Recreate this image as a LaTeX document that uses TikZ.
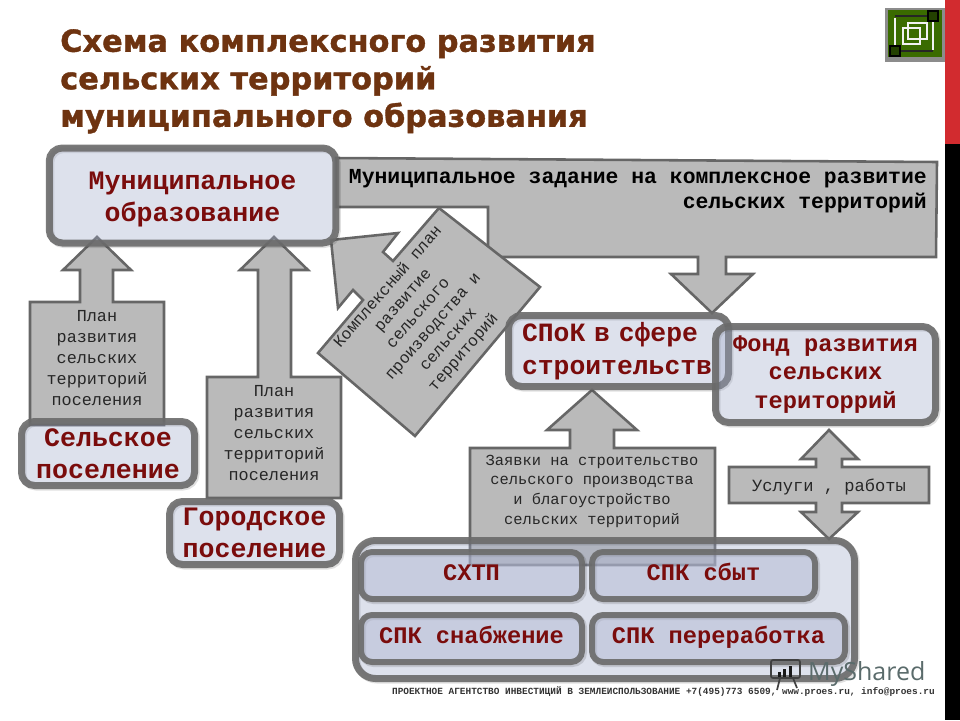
\documentclass[tikz,border=0pt]{standalone}
\usepackage{fontspec}
\setmainfont{Liberation Sans}
\setmonofont{Liberation Mono}
\newfontfamily\titlefont{DejaVu Sans}[BoldFeatures={FakeBold=1.2}]
\newfontfamily\markfont{Open Sans}
\definecolor{framegrey}{HTML}{6B6B6B}
\definecolor{calloutgrey}{HTML}{BABABA}
\definecolor{calloutline}{HTML}{666666}
\definecolor{boxblue}{HTML}{9EA9C9}
\definecolor{innerblue}{HTML}{B2B8D2}
\definecolor{labelred}{HTML}{7A0C0C}
\definecolor{titlebrown}{HTML}{6E3310}
\definecolor{barred}{HTML}{D22B2F}
\definecolor{logogreen}{HTML}{3A6B00}
\definecolor{markgrey}{HTML}{5A6B6B}
\tikzset{
	callout/.style={draw=calloutline, fill=calloutgrey, line width=0.9mm, line join=miter},
	calloutlabel/.style={font=\ttfamily\fontsize{16.8}{21}\selectfont, align=center, text=black!85, inner sep=0},
	orgbox/.style={draw=framegrey, draw opacity=0.9, fill=boxblue, fill opacity=0.35, text opacity=1, line width=7pt, rounded corners=13pt,
		text=labelred, font=\ttfamily\bfseries\fontsize{26.6}{32.5}\selectfont, align=center, inner sep=0,
		preaction={draw=black, draw opacity=0.12, line width=7pt, transform canvas={shift={(1.5pt,-1.5pt)}}}},
	innerbox/.style={orgbox, fill=innerblue, fill opacity=0.5, line width=6pt, rounded corners=11pt,
		text height=15pt, text depth=5pt, font=\ttfamily\bfseries\fontsize{23.7}{28}\selectfont},
}
\begin{document}
\begin{tikzpicture}[x=1pt, y=-1pt]
		%%%%% START %%%%%
		\useasboundingbox (0, 0) rectangle (960, 720);
		
		\fill[color=barred] (945, 0) rectangle (960, 144);
		\fill[color=black] (945, 144) rectangle (960, 720);
		
		\node[font=\titlefont\bfseries\fontsize{30.4}{37.5}\selectfont, text=titlebrown, align=left, inner sep=0, anchor=north west] (title) at (60, 29)
			{Схема комплексного развития\\сельских территорий\\муниципального образования};
		
		\fill[color=black!45] (885, 8) rectangle (945, 62);
		\fill[color=logogreen] (888, 10) rectangle (942, 57);
		\draw[line width=0.4mm, color=black!5] (895, 18) -- (895, 45);
		\draw[line width=0.4mm, color=black!5] (933, 22) -- (933, 50);
		\draw[line width=0.4mm, color=black!85] (895, 16) -- (930, 16);
		\draw[line width=0.4mm, color=black!85] (898, 51) -- (933, 51);
		\draw[line width=0.4mm, color=black!5] (908, 23) rectangle (927, 39);
		\draw[line width=0.4mm, color=black!5] (903, 28) rectangle (920, 44);
		\draw[line width=0.4mm, fill=logogreen!60!black] (928, 11) rectangle (938, 21);
		\draw[line width=0.4mm, fill=logogreen!60!black] (890, 46) rectangle (900, 56);
		
		\draw[callout] (336, 158) -- (937, 162) -- (936, 257) -- (726, 257) -- (726, 274) -- (753, 274) -- (712, 313) -- (671, 274) -- (698, 274) -- (698, 257) -- (488, 257) -- (488, 207) -- (336, 207) -- cycle;
		\node[font=\ttfamily\bfseries\fontsize{21.4}{24.5}\selectfont, align=right, text=black, inner sep=0, anchor=east] (task) at (927, 191)
			{Муниципальное задание на комплексное развитие\\сельских территорий};
		
		\draw[callout] (331, 240) -- (398, 233) -- (383, 252) -- (393, 261) -- (439, 208) -- (540, 287) -- (415, 436) -- (318, 353) -- (363, 300) -- (353, 290) -- (338, 308) -- cycle;
		\node[calloutlabel, font=\ttfamily\fontsize{16.2}{20}\selectfont, rotate=49] (complex) at (426, 320)
			{Комплексный план\\развитие\\сельского\\производства и\\сельских\\территорий};
		
		\draw[callout] (30, 425) -- (30, 302) -- (80, 302) -- (80, 270) -- (63, 270) -- (97, 237) -- (131, 270) -- (113, 270) -- (113, 302) -- (164, 302) -- (164, 425) -- cycle;
		\node[calloutlabel] (plana) at (97, 358) {План\\развития\\сельских\\территорий\\поселения};
		
		\draw[callout] (207, 498) -- (207, 377) -- (258, 377) -- (258, 270) -- (240, 270) -- (274, 237) -- (308, 270) -- (291, 270) -- (291, 377) -- (341, 377) -- (341, 498) -- cycle;
		\node[calloutlabel] (planb) at (274, 433) {План\\развития\\сельских\\территорий\\поселения};
		
		\draw[callout] (470, 565) -- (470, 448) -- (570, 448) -- (570, 430) -- (547, 430) -- (592, 390) -- (637, 430) -- (614, 430) -- (614, 448) -- (715, 448) -- (715, 565) -- cycle;
		\node[calloutlabel, font=\ttfamily\fontsize{15.4}{19.7}\selectfont] (claims) at (592, 491) {Заявки на строительство\\сельского производства\\и благоустройство\\сельских территорий};
		
		\draw[callout] (829, 430) -- (858, 459) -- (842, 459) -- (842, 467) -- (929, 467) -- (929, 503) -- (842, 503) -- (842, 512) -- (858, 512) -- (829, 539) -- (801, 512) -- (816, 512) -- (816, 503) -- (729, 503) -- (729, 467) -- (816, 467) -- (816, 459) -- (801, 459) -- cycle;
		\node[calloutlabel, font=\ttfamily\fontsize{17.1}{20}\selectfont] (works) at (829, 487) {Услуги , работы};
		
		\node[orgbox, minimum width=286.5pt, minimum height=95pt] (munic) at (192.5, 195.5) {\rule{0pt}{26pt}Муниципальное\\образование};
		\node[orgbox, minimum width=173pt, minimum height=64pt] (rural) at (108, 453.5) {Сельское\\поселение};
		\node[orgbox, minimum width=170pt, minimum height=63pt] (urban) at (254.5, 533) {Городское\\поселение};
		
		\node[orgbox, minimum height=71pt, text width=220pt, align=left, inner xsep=0, font=\ttfamily\bfseries\fontsize{26.4}{33}\selectfont] (spok) at (618.5, 351)
			{\hspace*{13.5pt}СПоК в сфере\\\hspace*{13.5pt}строительств};
		\node[orgbox, minimum width=220pt, minimum height=96pt, font=\ttfamily\bfseries\fontsize{23.7}{28.5}\selectfont] (fund) at (825.5, 374.5)
			{Фонд развития\\сельских\\територрий};
		
		\node[orgbox, minimum width=499pt, minimum height=138pt, rounded corners=20pt] (panel) at (605, 609.5) {};
		\node[innerbox, minimum width=221pt, minimum height=47pt] (sxtp) at (471.5, 575.5) {СХТП};
		\node[innerbox, minimum width=223pt, minimum height=47pt] (sale) at (703.5, 575.5) {СПК сбыт};
		\node[innerbox, minimum width=221pt, minimum height=47pt] (supply) at (471.5, 638.5) {СПК снабжение};
		\node[innerbox, minimum width=253pt, minimum height=47pt] (proc) at (718.5, 638.5) {СПК переработка};
		
		\draw[line width=0.6mm, color=black!75, rounded corners=2pt] (771, 660) rectangle (800, 678);
		\draw[line width=0.6mm, color=black!75] (780, 678) -- (777, 690);
		\draw[line width=0.6mm, color=black!75] (793, 678) -- (797, 688);
		\fill[color=black!90] (778, 672) rectangle (781, 677);
		\fill[color=black!90] (783, 669) rectangle (786, 677);
		\fill[color=black!90] (789, 666) rectangle (792, 677);
		\node[font=\markfont\fontsize{25}{25}\selectfont, text=markgrey, inner sep=0, anchor=west] (mark) at (808, 674) {MyShared};
		
		\node[font=\ttfamily\bfseries\fontsize{9.42}{10}\selectfont, text=black!80, inner sep=0, anchor=east] (footer) at (935, 692)
			{ПРОЕКТНОЕ АГЕНТСТВО ИНВЕСТИЦИЙ В ЗЕМЛЕИСПОЛЬЗОВАНИЕ +7(495)773 6509, www.proes.ru, info@proes.ru};
		%%%%% END %%%%%
	\end{tikzpicture}
\end{document}
